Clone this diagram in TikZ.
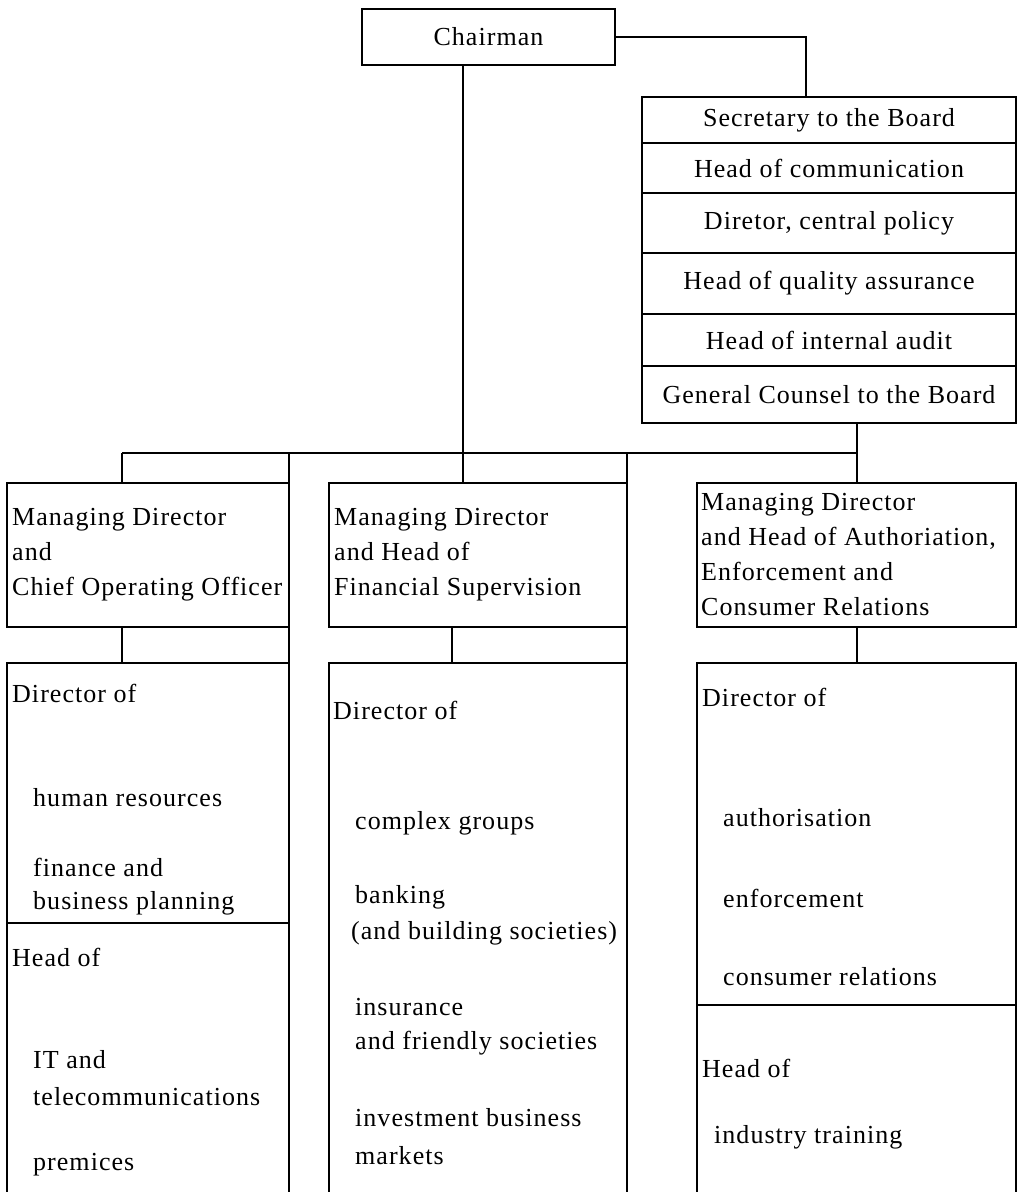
\documentclass[tikz,border=0pt]{standalone}
\usepackage{fontspec}
\setmainfont{Liberation Serif}[LetterSpace=4]
\usetikzlibrary{positioning,calc}
\newcommand{\orgfont}{\fontsize{26}{35}\selectfont}
\newcommand{\comma}{,}
\tikzset{
  box/.style={draw,line width=1.4pt,outer sep=0pt,inner sep=0pt},
  chair box/.style={box,line width=2.8pt,minimum width=253pt,minimum height=56pt,font=\orgfont},
  office/.style={box,minimum width=374pt,minimum height=#1,font=\orgfont},
  md box/.style={box,minimum width=#1,minimum height=144pt},
  unit/.style={box,minimum width=#1},
  tag/.style={inner sep=0pt,font=\orgfont,align=left},
  link/.style={line width=1.4pt},
}

\begin{document}
\begin{tikzpicture}[x=1pt,y=-1pt]
  \useasboundingbox (0,0) rectangle (1017,1192);
  \clip (0,0) rectangle (1017,1192);

  % chairman and his office
  \node[chair box] (chair) at (488.5,37) {Chairman};
  \foreach \t/\y/\h [count=\i] in {Secretary to the Board/120/46,
                                   Head of communication/168/50,
                                   Diretor\comma{} central policy/223/60,
                                   Head of quality assurance/283.5/61,
                                   Head of internal audit/340/52,
                                   General Counsel to the Board/394.5/57}{
    \node[office=\h pt] (s\i) at (829,\y) {\t};
  }

  % managing directors
  \node[md box=282pt] (m1) at (148,555) {};
  \node[md box=298pt] (m2) at (478,555) {};
  \node[md box=319pt] (m3) at (856.5,555) {};
  \node[tag,right=5pt of m1.west] (m1t) {Managing Director\\and\\Chief Operating Officer};
  \node[tag,right=5pt of m2.west] (m2t) {Managing Director\\and Head of\\Financial Supervision};
  \node[tag,right=4pt of m3.west] (m3t) {Managing Director\\and Head of Authoriation,\\Enforcement and\\Consumer Relations};

  % directors and heads (open at the bottom)
  \node[unit=282pt,minimum height=260pt] (d1) at (148,793) {};
  \node[unit=282pt,minimum height=307pt] (h1) at (148,1076.5) {};
  \node[unit=298pt,minimum height=567pt] (d2) at (478,946.5) {};
  \node[unit=319pt,minimum height=342pt] (d3) at (856.5,834) {};
  \node[unit=319pt,minimum height=225pt] (h3) at (856.5,1117.5) {};
  \foreach \x/\y/\t [count=\i] in {12/693/Director of, 33/798/human resources,
      33/867/finance and, 33/903/business planning, 12/957/Head of,
      33/1060/IT and, 33/1097/telecommunications, 33/1165/premices,
      333/710/Director of, 355/823/complex groups, 355/897/banking,
      351/933/(and building societies), 355/1007/insurance,
      355/1043/and friendly societies, 355/1118/investment business,
      355/1156/markets,
      702/697/Director of, 723/818/authorisation, 723/898/enforcement,
      723/977/consumer relations, 702/1068/Head of, 714/1137/industry training}
    \node[tag,anchor=west] (e\i) at (\x,\y) {\t};

  % lines
  \coordinate (busw) at (122,453);
  \coordinate (busc) at (463,453);
  \coordinate (buse) at (857,453);
  \draw[link] (chair.east) -| ($(s1.north west)+(164,0)$);
  \draw[link] (busc |- chair.south) -- (busc |- m2.north);
  \draw[link] (busw) -- (buse);
  \draw[link] (buse |- s6.south) -- (buse |- m3.north);
  \draw[link] (busw) -- (busw |- m1.north);
  \draw[link] (m1.north east |- busw) -- (m1.north east);
  \draw[link] (m2.north east |- busw) -- (m2.north east);
  \draw[link] (busw |- m1.south) -- (busw |- d1.north);
  \draw[link] (m1.south east) -- (d1.north east);
  \draw[link] ($(m2.south west)+(123,0)$) -- ($(d2.north west)+(123,0)$);
  \draw[link] (m2.south east) -- (d2.north east);
  \draw[link] (buse |- m3.south) -- (buse |- d3.north);
\end{tikzpicture}
\end{document}
